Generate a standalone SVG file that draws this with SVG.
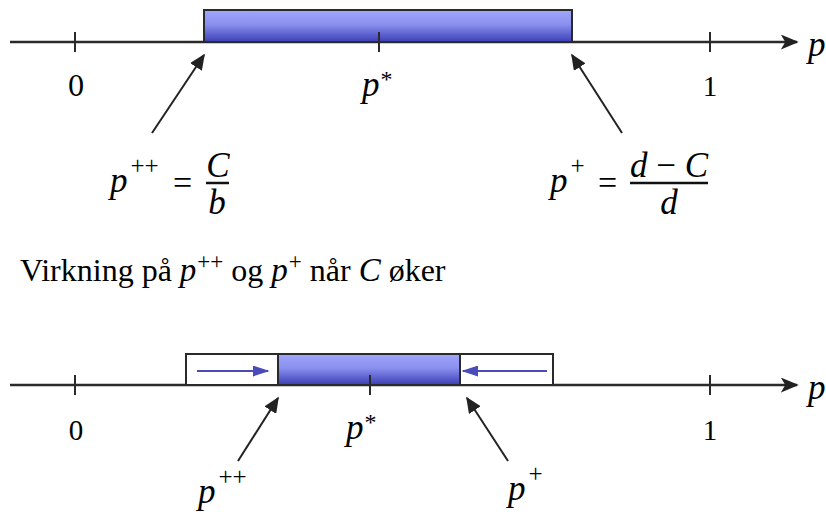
<svg xmlns="http://www.w3.org/2000/svg" width="826" height="512" viewBox="0 0 826 512">
<defs>
<linearGradient id="blue" x1="0" y1="0" x2="0" y2="1">
<stop offset="0" stop-color="#a0a6fb"/>
<stop offset="0.45" stop-color="#8a90ee"/>
<stop offset="1" stop-color="#3b3eb6"/>
</linearGradient>
<marker id="axh" viewBox="0 0 10 10" refX="9" refY="5" markerWidth="18" markerHeight="15" markerUnits="userSpaceOnUse" orient="auto" preserveAspectRatio="none">
<path d="M0,0 L10,5 L0,10 L2.5,5 Z" fill="#222"/>
</marker>
<marker id="bh" viewBox="0 0 10 10" refX="9" refY="5" markerWidth="17" markerHeight="11" markerUnits="userSpaceOnUse" orient="auto" preserveAspectRatio="none">
<path d="M0,0 L10,5 L0,10 Z" fill="#4a4ab8"/>
</marker>
<marker id="ph" viewBox="0 0 10 10" refX="9" refY="5" markerWidth="16" markerHeight="14" markerUnits="userSpaceOnUse" orient="auto" preserveAspectRatio="none">
<path d="M0,0 L10,5 L0,10 Z" fill="#222"/>
</marker>
</defs>

<g id="top-axis" stroke="#2a2a2a" fill="none">
<line x1="10" y1="42" x2="797" y2="42" stroke-width="2.5" marker-end="url(#axh)"/>
<line x1="75" y1="32" x2="75" y2="52" stroke-width="2"/>
<line x1="710" y1="32" x2="710" y2="52" stroke-width="2"/>
</g>
<text font-family="serif" font-style="italic" font-size="35" x="808" y="56">p</text>
<g id="top-interval">
<rect x="204" y="10" width="368" height="32" fill="url(#blue)" stroke="#2a2a2a" stroke-width="2"/>
<line x1="379" y1="32" x2="379" y2="52" stroke="#2a2a2a" stroke-width="2"/>
</g>
<g id="top-labels">
<text font-family="DejaVu Serif" font-size="27" x="76" y="96" text-anchor="middle">0</text>
<text font-family="serif" font-style="italic" font-size="35" x="362" y="96">p<tspan font-style="normal" font-size="24" dx="1" dy="-9">*</tspan></text>
<text font-family="serif" font-size="29" x="710" y="96" text-anchor="middle">1</text>
</g>
<g id="formula-pp">
<text style="font-family:'Liberation Serif'" font-style="italic" font-size="35" x="110" y="192">p<tspan font-style="normal" font-size="25" dx="3" dy="-18">++</tspan></text>
<text font-family="serif" font-size="34" x="173" y="194">=</text>
<line x1="206" y1="183" x2="229" y2="183" stroke="#111" stroke-width="2.5"/>
<text font-family="serif" font-style="italic" font-size="35" x="218" y="177" text-anchor="middle">C</text>
<text font-family="serif" font-style="italic" font-size="35" x="217" y="214" text-anchor="middle">b</text>
</g>
<g id="formula-p">
<text font-family="Times New Roman" font-style="italic" font-size="35" x="550" y="192">p<tspan font-style="normal" font-size="25" dx="3" dy="-18">+</tspan></text>
<text font-family="serif" font-size="34" x="598" y="194">=</text>
<line x1="630" y1="183" x2="708" y2="183" stroke="#111" stroke-width="2.5"/>
<text font-family="serif" font-style="italic" font-size="35" x="669" y="177" text-anchor="middle">d <tspan font-style="normal">−</tspan> C</text>
<text font-family="serif" font-style="italic" font-size="35" x="669" y="214" text-anchor="middle">d</text>
</g>
<text font-family="serif" font-size="32" x="20" y="281">Virkning på <tspan font-style="italic" font-size="33">p</tspan><tspan font-size="23" dx="1" dy="-12">++</tspan><tspan dy="12"> og </tspan><tspan font-style="italic" font-size="33">p</tspan><tspan font-size="23" dx="1" dy="-12">+</tspan><tspan dy="12"> når </tspan><tspan font-style="italic" font-size="33">C</tspan> øker</text>

<g id="bottom-axis" stroke="#2a2a2a" fill="none">
<line x1="10" y1="385" x2="797" y2="385" stroke-width="2.5" marker-end="url(#axh)"/>
<line x1="75" y1="375" x2="75" y2="395" stroke-width="2"/>
<line x1="710" y1="375" x2="710" y2="395" stroke-width="2"/>
</g>
<text font-family="serif" font-style="italic" font-size="35" x="808" y="399">p</text>
<g id="bottom-interval" stroke="#2a2a2a" stroke-width="2">
<rect x="186" y="354" width="367" height="31" fill="#fff"/>
<rect x="278" y="354" width="182" height="31" fill="url(#blue)"/>
<line x1="370" y1="375" x2="370" y2="395"/>
</g>
<g id="bottom-labels">
<text font-family="serif" font-size="29" x="76" y="440" text-anchor="middle">0</text>
<text font-family="serif" font-style="italic" font-size="35" x="346" y="439">p<tspan font-style="normal" font-size="24" dx="1" dy="-9">*</tspan></text>
<text font-family="serif" font-size="29" x="710" y="440" text-anchor="middle">1</text>
<text font-family="serif" font-style="italic" font-size="35" x="198" y="503">p<tspan font-style="normal" font-size="25" dx="3" dy="-18">++</tspan></text>
<text font-family="serif" font-style="italic" font-size="35" x="508" y="500">p<tspan font-style="normal" font-size="25" dx="3" dy="-18">+</tspan></text>
</g>

<g id="connectors" fill="none" stroke-width="2">
<line stroke="#222" x1="152" y1="133" x2="204" y2="55" marker-end="url(#ph)"/>
<line stroke="#222" x1="622" y1="133" x2="572" y2="55" marker-end="url(#ph)"/>
<line stroke="#222" x1="238" y1="461" x2="278" y2="398" marker-end="url(#ph)"/>
<line stroke="#222" x1="508" y1="461" x2="467" y2="398" marker-end="url(#ph)"/>
<line stroke="#4a4ab8" x1="197" y1="371" x2="268" y2="371" marker-end="url(#bh)"/>
<line stroke="#4a4ab8" x1="547" y1="371" x2="463" y2="371" marker-end="url(#bh)"/>
</g>
</svg>
